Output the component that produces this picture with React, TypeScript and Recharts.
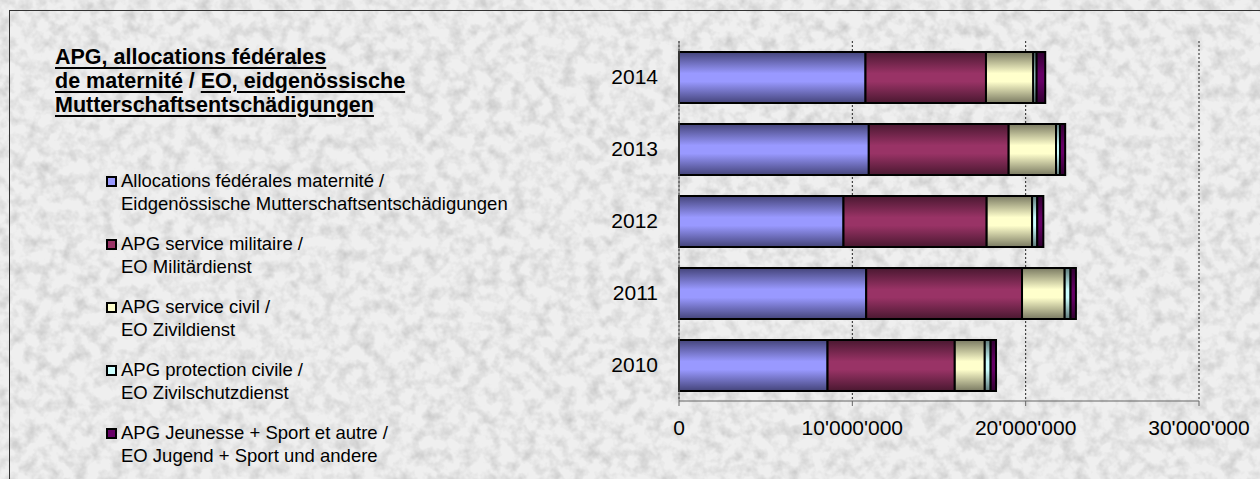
import React from "react";
import {
  BarChart,
  Bar,
  XAxis,
  YAxis,
  CartesianGrid,
  Legend,
} from "recharts";

// values, in francs
const years = ["2010", "2011", "2012", "2013", "2014"];
const maternite = [8570000, 10800000, 9490000, 10950000, 10760000];
const militaire = [7340000, 8990000, 8260000, 8070000, 6950000];
const civil = [1730000, 2460000, 2620000, 2730000, 2730000];
const protection = [340000, 340000, 300000, 230000, 190000];
const jeunesse = [310000, 310000, 350000, 300000, 500000];

const xTicks = [0, 10000000, 20000000, 30000000];

const titleLines = [
  ["APG, allocations fédérales"],
  ["de maternité", " / ", "EO, eidgenössische"],
  ["Mutterschaftsentschädigungen"],
];

const series = [
  { key: "maternite", light: "#9999ff", dark: "#44447a", label: ["Allocations fédérales maternité /", "Eidgenössische Mutterschaftsentschädigungen"] },
  { key: "militaire", light: "#993366", dark: "#4a1830", label: ["APG service militaire /", "EO Militärdienst"] },
  { key: "civil", light: "#ffffcc", dark: "#7a7a62", label: ["APG service civil /", "EO Zivildienst"] },
  { key: "protection", light: "#ccffff", dark: "#5f7a7a", label: ["APG protection civile /", "EO Zivilschutzdienst"] },
  { key: "jeunesse", light: "#660066", dark: "#300030", label: ["APG Jeunesse + Sport et autre /", "EO Jugend + Sport und andere"] },
];

const data = years.map((year, i) => ({
  year,
  maternite: maternite[i],
  militaire: militaire[i],
  civil: civil[i],
  protection: protection[i],
  jeunesse: jeunesse[i],
}));

const FONT = "'Liberation Sans', Arial, sans-serif";

const fmt = (v: number) => v.toString().replace(/\B(?=(\d{3})+(?!\d))/g, "'");

function LegendBox() {
  return (
    <div style={{ fontFamily: FONT, fontSize: 18.5, lineHeight: "22.6px", color: "#000" }}>
      {series.map(s => (
        <div key={s.key} style={{ position: "relative", paddingLeft: 15, height: 63, whiteSpace: "nowrap" }}>
          <span
            style={{
              position: "absolute",
              left: 0,
              top: 6,
              width: 7,
              height: 7,
              background: s.light,
              border: "2px solid #000",
            }}
          />
          <div>{s.label[0]}</div>
          <div>{s.label[1]}</div>
        </div>
      ))}
    </div>
  );
}

export default function App() {
  return (
    <div style={{ position: "absolute", left: 0, top: 0, width: 1260, height: 479, overflow: "hidden" }}>
      <svg width={1260} height={479} style={{ position: "absolute", left: 0, top: 0 }}>
        <defs>
          <filter id="grain" x="0" y="0" width="100%" height="100%">
            <feTurbulence type="fractalNoise" baseFrequency="0.08" numOctaves="3" seed="7" />
            <feColorMatrix
              type="matrix"
              values="0 0 0 0 0.42  0 0 0 0 0.42  0 0 0 0 0.42  1.8 0 0 0 -0.72"
            />
          </filter>
        </defs>
        <rect x={0} y={0} width={1260} height={479} fill="#efefef" />
        <rect x={0} y={0} width={1260} height={479} filter="url(#grain)" opacity={0.6} />
        <rect x={9.5} y={10.5} width={1300} height={520} fill="none" stroke="#333" strokeWidth={1} />
      </svg>

      <div
        style={{
          position: "absolute",
          left: 55,
          top: 46,
          fontFamily: FONT,
          fontSize: 21.5,
          fontWeight: "bold",
          lineHeight: "23.8px",
          color: "#000",
          whiteSpace: "nowrap",
        }}
      >
        {titleLines.map((line, i) => (
          <div key={i}>
            {line.map((part, j) =>
              part.trim() === "/" ? (
                <span key={j}>{part}</span>
              ) : (
                <span
                  key={j}
                  style={{
                    textDecoration: "underline",
                    textDecorationThickness: 2,
                    textUnderlineOffset: 3,
                  }}
                >
                  {part}
                </span>
              )
            )}
          </div>
        ))}
      </div>

      <div style={{ position: "absolute", left: 0, top: 0 }}>
        <BarChart
          width={1260}
          height={479}
          data={data}
          layout="vertical"
          barSize={51}
          margin={{ top: 41, right: 61, bottom: 38, left: 599 }}
        >
          <defs>
            {series.map(s => (
              <linearGradient key={s.key} id={`g-${s.key}`} x1="0" y1="0" x2="0" y2="1">
                <stop offset="0%" stopColor={s.dark} />
                <stop offset="42%" stopColor={s.light} />
                <stop offset="58%" stopColor={s.light} />
                <stop offset="100%" stopColor={s.dark} />
              </linearGradient>
            ))}
          </defs>
          <CartesianGrid horizontal={false} stroke="#222" strokeDasharray="2 2" />
          <XAxis
            type="number"
            domain={[0, 30000000]}
            ticks={xTicks}
            tickFormatter={fmt}
            height={40}
            axisLine={{ stroke: "#666" }}
            tickLine={{ stroke: "#666" }}
            tickSize={5}
            tickMargin={14}
            tick={{ fontSize: 21, fill: "#000", fontFamily: FONT }}
          />
          <YAxis
            type="category"
            dataKey="year"
            reversed
            width={80}
            axisLine={{ stroke: "#666" }}
            tickLine={false}
            tickSize={0}
            tickMargin={21}
            tick={{ fontSize: 21, fill: "#000", fontFamily: FONT }}
          />
          <Legend
            layout="vertical"
            align="center"
            verticalAlign="middle"
            wrapperStyle={{ left: 106, top: 170, width: 460 }}
            content={() => <LegendBox />}
          />
          {series.map(s => (
            <Bar
              key={s.key}
              dataKey={s.key}
              stackId="a"
              fill={`url(#g-${s.key})`}
              stroke="#000"
              strokeWidth={2}
              isAnimationActive={false}
            />
          ))}
        </BarChart>
      </div>
    </div>
  );
}
